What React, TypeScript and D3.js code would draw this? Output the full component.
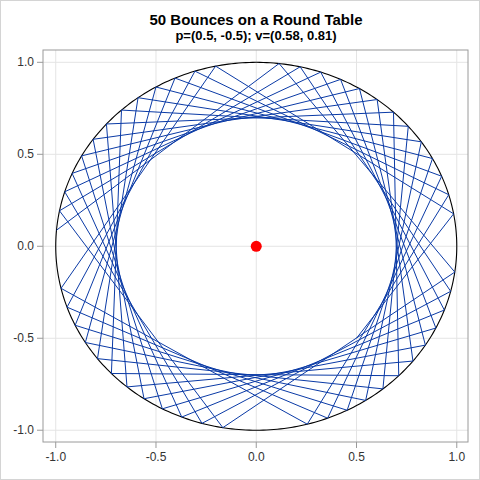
import React from "react";
import * as d3 from "d3";

// Data
const startPoint: [number, number] = [0.5, -0.5];
const velocity: [number, number] = [0.58, 0.81];
const numBounces = 50;
const xTicks = [-1.0, -0.5, 0.0, 0.5, 1.0];
const yTicks = [-1.0, -0.5, 0.0, 0.5, 1.0];
const xTickLabels = ["-1.0", "-0.5", "0.0", "0.5", "1.0"];
const yTickLabels = ["-1.0", "-0.5", "0.0", "0.5", "1.0"];
const centerPoint: [number, number] = [0, 0];
const titleText = "50 Bounces on a Round Table";
const subtitleText = "p=(0.5, -0.5); v=(0.58, 0.81)";

function computeBounces(p0: [number, number], v0: [number, number], n: number) {
  const pts: [number, number][] = [p0];
  let [px, py] = p0;
  let [vx, vy] = v0;
  for (let i = 0; i < n; i++) {
    const a = vx * vx + vy * vy;
    const b = 2 * (px * vx + py * vy);
    const c = px * px + py * py - 1;
    const t = (-b + Math.sqrt(b * b - 4 * a * c)) / (2 * a);
    px = px + t * vx;
    py = py + t * vy;
    pts.push([px, py]);
    const dot = vx * px + vy * py;
    vx = vx - 2 * dot * px;
    vy = vy - 2 * dot * py;
  }
  return pts;
}

export default function App() {
  const W = 480, H = 480;
  const left = 43, right = 468, top = 50, bottom = 442;
  const x = d3.scaleLinear().domain([-1.0635, 1.056]).range([left, right]);
  const y = d3.scaleLinear().domain([-1.064, 1.067]).range([bottom, top]);

  const pts = computeBounces(startPoint, velocity, numBounces);
  const line = d3.line<[number, number]>().x(d => x(d[0])).y(d => y(d[1]));
  const circlePts: [number, number][] = d3.range(0, 361).map(a => [Math.cos((a * Math.PI) / 180), Math.sin((a * Math.PI) / 180)]);

  const font = "'Liberation Sans', Arial, sans-serif";
  return (
    <div style={{ position: "fixed", left: 0, top: 0 }}>
      <svg width={W} height={H} style={{ display: "block", background: "#fff" }}>
        <rect x={0.5} y={0.5} width={W - 1} height={H - 1} fill="#fff" stroke="#d4d4d4" />
        <text x={256} y={25} textAnchor="middle" fontFamily={font} fontWeight="bold" fontSize={15} fill="#000">{titleText}</text>
        <text x={256} y={40} textAnchor="middle" fontFamily={font} fontWeight="bold" fontSize={13} fill="#000">{subtitleText}</text>
        {xTicks.map(t => (
          <line key={"gx" + t} x1={x(t)} x2={x(t)} y1={top} y2={bottom} stroke="#e4e4e4" />
        ))}
        {yTicks.map(t => (
          <line key={"gy" + t} x1={left} x2={right} y1={y(t)} y2={y(t)} stroke="#e4e4e4" />
        ))}
        <path d={line(circlePts) || ""} fill="none" stroke="#000" strokeWidth={1.1} />
        <path d={line(pts) || ""} fill="none" stroke="#0a3aa6" strokeWidth={1} />
        <circle cx={x(centerPoint[0])} cy={y(centerPoint[1])} r={5.5} fill="#ff0000" />
        <rect x={left} y={top} width={right - left} height={bottom - top} fill="none" stroke="#9a9a9a" />
        {xTicks.map((t, i) => (
          <g key={"tx" + t}>
            <line x1={x(t)} x2={x(t)} y1={bottom} y2={bottom + 6} stroke="#9a9a9a" />
            <text x={x(t)} y={bottom + 19} textAnchor="middle" fontFamily={font} fontSize={12} fill="#333">{xTickLabels[i]}</text>
          </g>
        ))}
        {yTicks.map((t, i) => (
          <g key={"ty" + t}>
            <line x1={left - 6} x2={left} y1={y(t)} y2={y(t)} stroke="#9a9a9a" />
            <text x={left - 9} y={y(t) + 4} textAnchor="end" fontFamily={font} fontSize={12} fill="#333">{yTickLabels[i]}</text>
          </g>
        ))}
      </svg>
    </div>
  );
}
